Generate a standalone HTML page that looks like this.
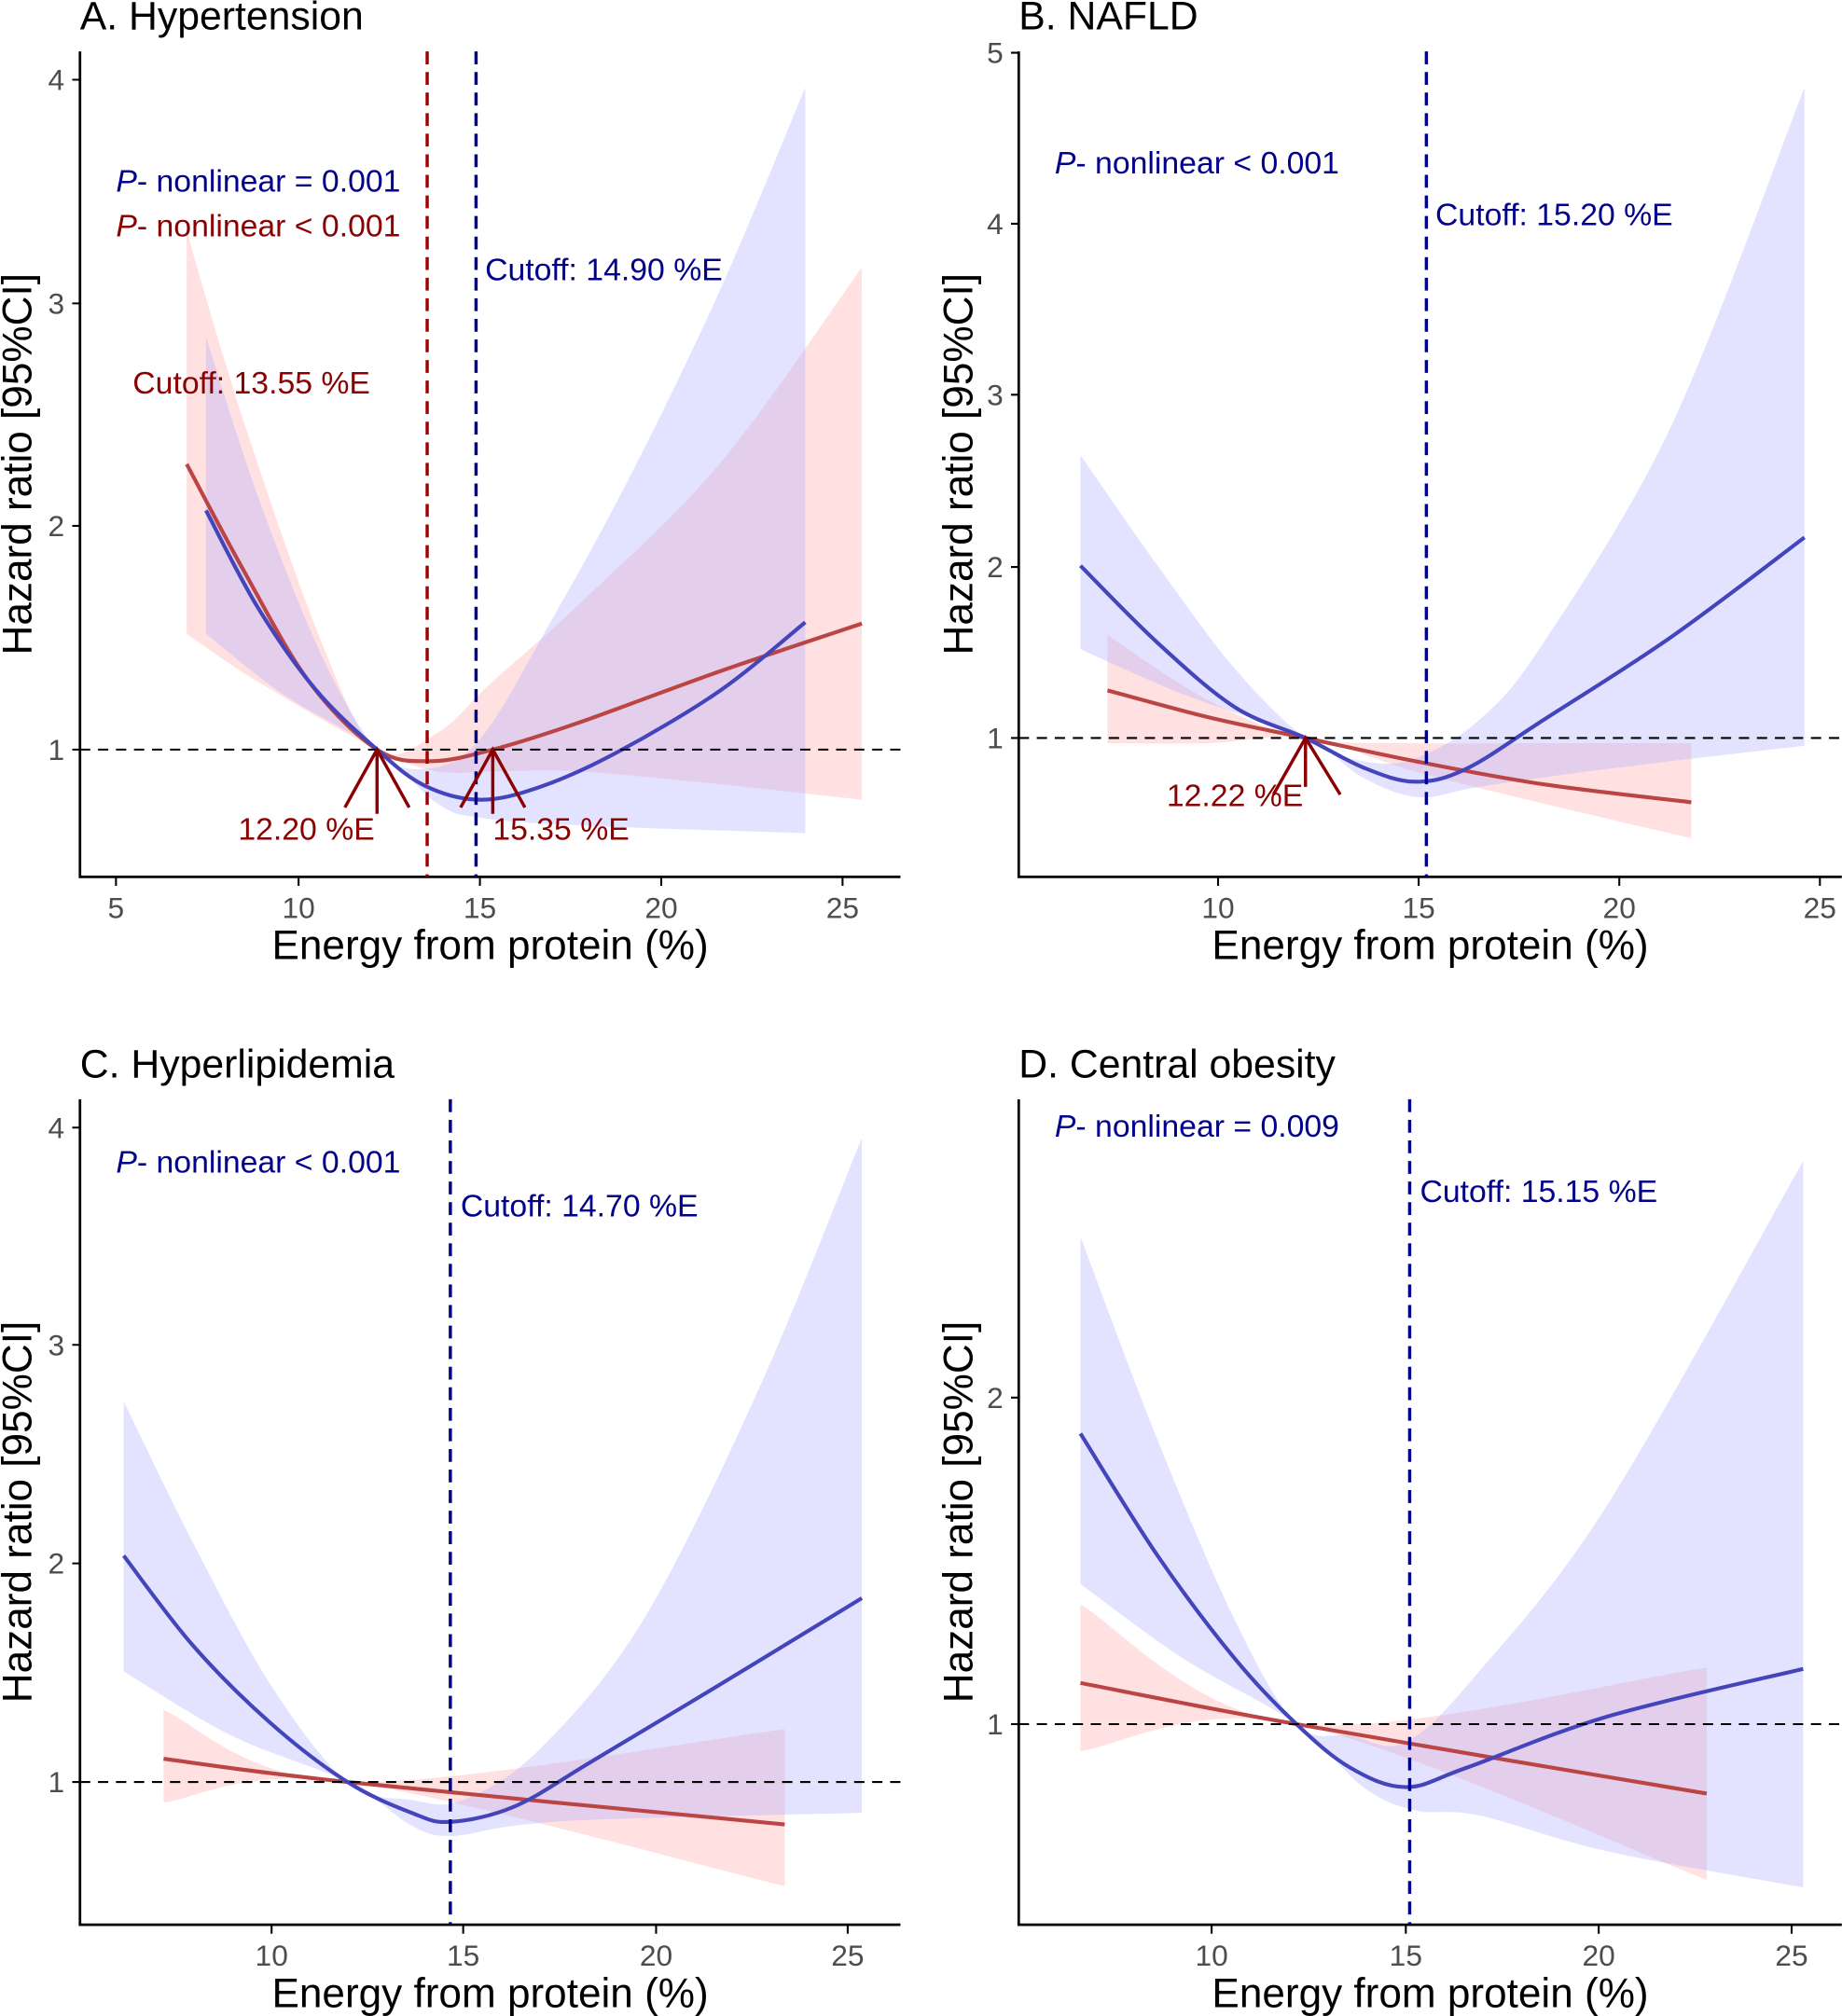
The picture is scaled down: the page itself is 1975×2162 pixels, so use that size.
<!DOCTYPE html>
<html><head><meta charset="utf-8"><style>
html,body{margin:0;padding:0;background:#fff}
svg{display:block}
text{font-family:"Liberation Sans",Arial,sans-serif}
</style></head><body>
<svg id="s" width="1975" height="2162" viewBox="0 0 1432 1568" xmlns="http://www.w3.org/2000/svg">
<g id="bands"></g>
<g id="lines"></g>
<g fill="none" stroke="#000" stroke-width="2">
<path d="M62,40V682H700"/><path d="M792,40V682H1432"/>
<path d="M62,855V1497H700"/><path d="M792,855V1497H1432"/>
</g>
<g stroke="#000" stroke-width="1.5" stroke-dasharray="8,6">
<line x1="62" y1="583" x2="700" y2="583"/><line x1="792" y1="574" x2="1432" y2="574"/>
<line x1="62" y1="1386" x2="700" y2="1386"/><line x1="792" y1="1341" x2="1432" y2="1341"/>
</g>
<g stroke-width="2.5" stroke-dasharray="10,6">
<line x1="332" y1="40" x2="332" y2="682" stroke="#a00000"/>
<line x1="370" y1="40" x2="370" y2="682" stroke="#00008b"/>
<line x1="1109" y1="40" x2="1109" y2="682" stroke="#00008b"/>
<line x1="350" y1="855" x2="350" y2="1497" stroke="#00008b"/>
<line x1="1096" y1="855" x2="1096" y2="1497" stroke="#00008b"/>
</g>
<g stroke="#8b0000" stroke-width="2.5" fill="none">
<path d="M293,583V633M268,628L293,583L318,628"/>
<path d="M383,583V633M358,628L383,583L408,628"/>
<path d="M1015,574V612M990,618L1015,574L1042,618"/>
</g>
<g stroke="#000" stroke-width="1.5">
<path d="M90,682v7M232,682v7M373,682v7M514,682v7M655,682v7M56,583h6M56,409h6M56,236h6M56,62h6"/>
<path d="M947,682v7M1103,682v7M1259,682v7M1415,682v7M786,574h6M786,441h6M786,307h6M786,174h6M786,41h6"/>
<path d="M211,1497v7M360,1497v7M510,1497v7M659,1497v7M56,1386h6M56,1216h6M56,1046h6M56,877h6"/>
<path d="M942,1497v7M1093,1497v7M1243,1497v7M1393,1497v7M786,1341h6M786,1087h6"/>
</g>
<g font-size="23" fill="#4d4d4d" text-anchor="middle">
<text x="90" y="714">5</text><text x="232" y="714">10</text><text x="373" y="714">15</text><text x="514" y="714">20</text><text x="655" y="714">25</text>
<text x="947" y="714">10</text><text x="1103" y="714">15</text><text x="1259" y="714">20</text><text x="1415" y="714">25</text>
<text x="211" y="1529">10</text><text x="360" y="1529">15</text><text x="510" y="1529">20</text><text x="659" y="1529">25</text>
<text x="942" y="1529">10</text><text x="1093" y="1529">15</text><text x="1243" y="1529">20</text><text x="1393" y="1529">25</text>
</g>
<g font-size="23" fill="#4d4d4d" text-anchor="end">
<text x="50" y="591">1</text><text x="50" y="417">2</text><text x="50" y="244">3</text><text x="50" y="70">4</text>
<text x="780" y="582">1</text><text x="780" y="449">2</text><text x="780" y="315">3</text><text x="780" y="182">4</text><text x="780" y="49">5</text>
<text x="50" y="1394">1</text><text x="50" y="1224">2</text><text x="50" y="1054">3</text><text x="50" y="885">4</text>
<text x="780" y="1349">1</text><text x="780" y="1095">2</text>
</g>
<g font-size="32" fill="#000" text-anchor="middle">
<text x="381" y="746">Energy from protein (%)</text><text x="1112" y="746">Energy from protein (%)</text>
<text x="381" y="1561">Energy from protein (%)</text><text x="1112" y="1561">Energy from protein (%)</text>
<text transform="translate(24,361) rotate(-90)">Hazard ratio [95%CI]</text>
<text transform="translate(756,361) rotate(-90)">Hazard ratio [95%CI]</text>
<text transform="translate(24,1176) rotate(-90)">Hazard ratio [95%CI]</text>
<text transform="translate(756,1176) rotate(-90)">Hazard ratio [95%CI]</text>
</g>
<g font-size="31" fill="#000">
<text x="62" y="23">A. Hypertension</text><text x="792" y="23">B. NAFLD</text>
<text x="62" y="838">C. Hyperlipidemia</text><text x="792" y="838">D. Central obesity</text>
</g>
<g font-size="24.5">
<text x="90" y="149" fill="#00008b"><tspan font-style="italic">P</tspan>- nonlinear = 0.001</text>
<text x="90" y="184" fill="#8b0000"><tspan font-style="italic">P</tspan>- nonlinear &lt; 0.001</text>
<text x="377" y="218" fill="#00008b">Cutoff: 14.90 %E</text>
<text x="103" y="306" fill="#8b0000">Cutoff: 13.55 %E</text>
<text x="185" y="653" fill="#8b0000">12.20 %E</text>
<text x="383" y="653" fill="#8b0000">15.35 %E</text>
<text x="820" y="135" fill="#00008b"><tspan font-style="italic">P</tspan>- nonlinear &lt; 0.001</text>
<text x="1116" y="175" fill="#00008b">Cutoff: 15.20 %E</text>
<text x="907" y="627" fill="#8b0000">12.22 %E</text>
<text x="90" y="912" fill="#00008b"><tspan font-style="italic">P</tspan>- nonlinear &lt; 0.001</text>
<text x="358" y="946" fill="#00008b">Cutoff: 14.70 %E</text>
<text x="820" y="884" fill="#00008b"><tspan font-style="italic">P</tspan>- nonlinear = 0.009</text>
<text x="1104" y="935" fill="#00008b">Cutoff: 15.15 %E</text>
</g>
</svg>
<script>
function cr(p){let d="";for(let i=0;i<p.length-1;i++){const a=p[Math.max(0,i-1)],b=p[i],c=p[i+1],e=p[Math.min(p.length-1,i+2)];
const c1=[b[0]+(c[0]-a[0])/6,b[1]+(c[1]-a[1])/6],c2=[c[0]-(e[0]-b[0])/6,c[1]-(e[1]-b[1])/6];
d+=(i==0?"M"+b[0]+","+b[1]:"")+"C"+c1+" "+c2+" "+c;}return d;}
function band(u,l){const lr=l.slice().reverse();return cr(u)+"L"+lr[0]+cr(lr).slice(1).replace(/^[^C]*/,"")+"Z";}
const NS="http://www.w3.org/2000/svg";
function add(g,d,attrs){const e=document.createElementNS(NS,"path");e.setAttribute("d",d);for(const k in attrs)e.setAttribute(k,attrs[k]);document.getElementById(g).appendChild(e);}
const B={fill:"rgb(170,170,255)","fill-opacity":"0.33",stroke:"none"},R={fill:"rgb(255,170,170)","fill-opacity":"0.35",stroke:"none"};
const BL={fill:"none",stroke:"#4444bb","stroke-width":"3"},RL={fill:"none",stroke:"#bb4444","stroke-width":"3"};
const P=[
{bu:[[160,262],[200,385],[250,510],[293,583],[330,598],[373,575],[430,480],[490,370],[560,225],[626,68]],
 bl:[[160,493],[220,540],[293,583],[340,625],[373,636],[450,642],[626,648]],
 b:[[160,397],[200,472],[245,536],[293,583],[330,611],[373,622],[420,612],[480,585],[560,537],[626,484]],
 ru:[[145,180],[190,330],[250,500],[293,583],[340,570],[383,530],[450,470],[560,360],[670,208]],
 rl:[[145,493],[200,530],[293,583],[340,600],[383,600],[450,600],[560,610],[670,622]],
 r:[[145,361],[190,445],[240,530],[293,583],[335,592],[383,583],[450,562],[560,522],[670,485]]},
{bu:[[840,354],[900,440],[960,520],[1015,574],[1060,592],[1100,590],[1150,560],[1200,500],[1300,330],[1403,68]],
 bl:[[840,505],[920,540],[1015,574],[1060,605],[1103,620],[1150,612],[1250,598],[1403,580]],
 b:[[840,440],[900,500],[960,550],[1015,574],[1060,597],[1100,608],[1140,598],[1200,560],[1300,495],[1403,418]],
 ru:[[861,494],[940,545],[1015,574],[1100,578],[1200,578],[1315,578]],
 rl:[[861,578],[940,578],[1015,574],[1100,600],[1200,625],[1315,652]],
 r:[[861,537],[940,558],[1015,574],[1100,592],[1200,610],[1315,624]]},
{bu:[[96,1090],[150,1200],[210,1310],[270,1386],[320,1400],[360,1400],[420,1360],[500,1260],[590,1080],[670,885]],
 bl:[[96,1300],[180,1350],[270,1386],[320,1420],[350,1428],[400,1420],[470,1415],[670,1410]],
 b:[[96,1210],[150,1280],[210,1340],[270,1386],[320,1410],[350,1417],[400,1405],[460,1370],[560,1310],[670,1243]],
 ru:[[127,1330],[270,1386],[610,1345]],rl:[[127,1402],[270,1386],[610,1467]],r:[[127,1368],[270,1386],[610,1419]]},
{bu:[[840,962],[900,1120],[960,1260],[1008,1341],[1050,1350],[1093,1355],[1150,1300],[1250,1170],[1402,903]],
 bl:[[840,1232],[920,1290],[1008,1341],[1060,1390],[1100,1408],[1150,1412],[1250,1440],[1402,1468]],
 b:[[840,1115],[900,1210],[960,1290],[1008,1341],[1050,1375],[1093,1390],[1140,1375],[1250,1335],[1402,1298]],
 ru:[[840,1248],[1008,1341],[1327,1297]],rl:[[840,1362],[1008,1341],[1327,1462]],r:[[840,1309],[1008,1341],[1327,1395]]}];
P.forEach(p=>{add("bands",band(p.ru,p.rl),R);add("bands",band(p.bu,p.bl),B);add("lines",cr(p.r),RL);add("lines",cr(p.b),BL);});
</script>
</body></html>
